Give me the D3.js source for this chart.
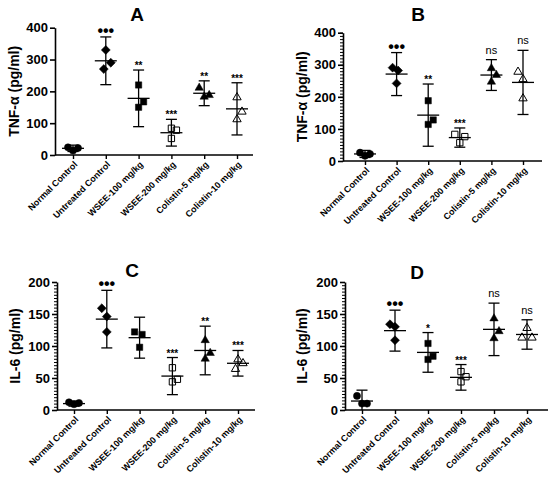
<!DOCTYPE html>
<html>
<head>
<meta charset="utf-8">
<script src="https://cdn.jsdelivr.net/npm/d3@7"></script>
<style>
body { margin: 0; background: #fff; }
svg { display: block; }
text { font-family: "Liberation Sans", Arial, sans-serif; }
</style>
</head>
<body>
<svg id="chart" width="550" height="477"></svg>
<script>
var categories = ['Normal Control', 'Untreated Control', 'WSEE-100 mg/kg',
                  'WSEE-200 mg/kg', 'Colistin-5 mg/kg', 'Colistin-10 mg/kg'];
var markers = ['circle', 'diamond', 'square', 'openSquare', 'triangle', 'openTriangle'];

// A: TNF-alpha
var tnfAMean = [21, 296, 178, 70, 194, 145];
var tnfASd = [10, 75, 89, 42, 39, 82];
var tnfAPoints = [[24, 14, 22], [330, 290, 270], [220, 167, 150],
                  [84, 78, 52], [211, 183, 188], [181, 136, 112]];
var tnfAJitter = [[-1, 0, 1], [0, 1, -0.4], [0, 1, 0], [0, 1, 0], [-1, 0, 1], [0, 1, 0]];
var tnfASig = ['', '•••', '**', '***', '**', '***'];

// B: TNF-alpha
var tnfBMean = [22, 271, 143, 73, 268, 245];
var tnfBSd = [11, 67, 97, 30, 48, 100];
var tnfBPoints = [[26, 16, 22], [291, 282, 242], [188, 128, 114],
                  [83, 76, 57], [289, 268, 247], [278, 255, 195]];
var tnfBJitter = [[-1, 0, 1], [-0.8, 0.3, 0], [0, 1, 0], [-1, 1, 0], [0, 1, 0], [-1, 0, 0]];
var tnfBSig = ['', '•••', '**', '***', 'ns', 'ns'];

// C: IL-6
var il6CMean = [10, 142, 113, 53, 93, 73];
var il6CSd = [4, 45, 32, 29, 38, 20];
var il6CPoints = [[12, 9, 11], [159, 146, 122], [122, 118, 98],
                  [66, 48, 44], [109, 89, 80], [79, 73, 64]];
var il6CJitter = [[-1, 0, 1], [-1, 0, 0], [-1, 0.5, 0], [0, 1, 0], [0, 1, 0], [0, 1, -0.5]];
var il6CSig = ['', '•••', '', '***', '**', '***'];

// D: IL-6
var il6DMean = [14, 124, 90, 51, 126, 118];
var il6DSd = [17, 32, 31, 20, 41, 23];
var il6DPoints = [[22, 10, 10], [134, 130, 109], [104, 84, 79],
                  [60, 52, 44], [143, 123, 112], [128, 113, 113]];
var il6DJitter = [[-1, 0, 1], [-1, 0, 0], [0, 1, 0], [0, 1, 0], [0, 1, 0], [0, -1, 1]];
var il6DSig = ['', '•••', '*', '***', 'ns', 'ns'];

var tnfTicks = [0, 100, 200, 300, 400];
var il6Ticks = [0, 50, 100, 150, 200];

var panels = [
    { title: 'A', yLabel: 'TNF-α (pg/ml)', mean: tnfAMean, sd: tnfASd, points: tnfAPoints,
      jitter: tnfAJitter, sig: tnfASig, ticks: tnfTicks, minor: 0,
      ax: 55, y0: 155, yTop: 27.7, x1: 73, x2: 237, xEnd: 253, titleX: 137, titleY: 21, labelX: 19 },
    { title: 'B', yLabel: 'TNF-α (pg/ml)', mean: tnfBMean, sd: tnfBSd, points: tnfBPoints,
      jitter: tnfBJitter, sig: tnfBSig, ticks: tnfTicks, minor: 10,
      ax: 343, y0: 161, yTop: 32.7, x1: 365, x2: 523, xEnd: 542, titleX: 418, titleY: 21, labelX: 307 },
    { title: 'C', yLabel: 'IL-6 (pg/ml)', mean: il6CMean, sd: il6CSd, points: il6CPoints,
      jitter: il6CJitter, sig: il6CSig, ticks: il6Ticks, minor: 5,
      ax: 57, y0: 410, yTop: 282, x1: 74, x2: 238, xEnd: 255, titleX: 132, titleY: 277, labelX: 20 },
    { title: 'D', yLabel: 'IL-6 (pg/ml)', mean: il6DMean, sd: il6DSd, points: il6DPoints,
      jitter: il6DJitter, sig: il6DSig, ticks: il6Ticks, minor: 5,
      ax: 345, y0: 410, yTop: 282, x1: 362, x2: 527, xEnd: 548, titleX: 417, titleY: 279, labelX: 307 }
];

var svg = d3.select('#chart');
var JITTER_PX = 5;

function markerPath(kind) {
    if (kind === 'circle') return d3.symbol(d3.symbolCircle, 40)();
    if (kind === 'diamond') return d3.symbol(d3.symbolSquare, 40)();
    if (kind === 'square' || kind === 'openSquare') return d3.symbol(d3.symbolSquare, 40)();
    return d3.symbol(d3.symbolTriangle, 30)();
}

function drawPanel(p) {
    var g = svg.append('g');
    var yMax = p.ticks[p.ticks.length - 1];
    var y = d3.scaleLinear().domain([0, yMax]).range([p.y0, p.yTop]);
    var x = d3.scalePoint().domain(categories).range([p.x1, p.x2]);

    // minor ticks first so major ones sit on top
    if (p.minor) {
        g.append('g').attr('transform', 'translate(' + p.ax + ',0)')
            .call(d3.axisLeft(y).tickValues(d3.range(0, yMax + 0.01, p.minor))
                               .tickSize(3).tickFormat(''))
            .call(function(a) { a.select('.domain').remove(); })
            .selectAll('line').attr('stroke-width', 1);
    }
    var yAxis = g.append('g').attr('transform', 'translate(' + p.ax + ',0)')
        .call(d3.axisLeft(y).tickValues(p.ticks).tickSize(5).tickSizeOuter(0).tickPadding(2));
    yAxis.select('.domain').attr('stroke-width', 1.6);
    yAxis.selectAll('.tick line').attr('stroke-width', 1.6);
    yAxis.selectAll('.tick text').attr('font-size', 13).attr('font-weight', 'bold')
         .attr('font-family', '"Liberation Sans", Arial, sans-serif').attr('fill', '#000');

    // x axis line with category ticks
    g.append('line').attr('x1', p.ax).attr('x2', p.xEnd).attr('y1', p.y0).attr('y2', p.y0)
        .attr('stroke', '#000').attr('stroke-width', 1.6);
    var xAxis = g.append('g').attr('transform', 'translate(0,' + p.y0 + ')')
        .call(d3.axisBottom(x).tickSize(4).tickFormat(''));
    xAxis.select('.domain').remove();
    xAxis.selectAll('.tick line').attr('stroke-width', 1.4);

    g.selectAll('text.cat').data(categories).enter().append('text')
        .attr('class', 'cat')
        .attr('transform', function(d) { return 'translate(' + (x(d) + 5) + ',' + (p.y0 + 10) + ') rotate(-45)'; })
        .attr('text-anchor', 'end')
        .attr('font-size', 9).attr('font-weight', 'bold')
        .text(function(d) { return d; });

    // y label and title
    g.append('text')
        .attr('transform', 'translate(' + p.labelX + ',' + ((p.y0 + p.yTop) / 2) + ') rotate(-90)')
        .attr('text-anchor', 'middle').attr('font-size', 14).attr('font-weight', 'bold')
        .text(p.yLabel);
    g.append('text').attr('x', p.titleX).attr('y', p.titleY)
        .attr('text-anchor', 'middle').attr('font-size', 19).attr('font-weight', 'bold')
        .text(p.title);

    categories.forEach(function(c, i) {
        var cx = x(c);
        var lo = y(Math.max(0, p.mean[i] - p.sd[i]));
        var hi = y(p.mean[i] + p.sd[i]);
        var m = y(p.mean[i]);
        var grp = g.append('g').attr('stroke', '#000').attr('stroke-width', 1.3);
        grp.append('line').attr('x1', cx).attr('x2', cx).attr('y1', lo).attr('y2', hi);
        grp.append('line').attr('x1', cx - 5.5).attr('x2', cx + 5.5).attr('y1', hi).attr('y2', hi);
        if (p.mean[i] - p.sd[i] > 0)
            grp.append('line').attr('x1', cx - 5.5).attr('x2', cx + 5.5).attr('y1', lo).attr('y2', lo);
        grp.append('line').attr('x1', cx - 11).attr('x2', cx + 11).attr('y1', m).attr('y2', m);

        var kind = markers[i];
        var open = kind.indexOf('open') === 0;
        p.points[i].forEach(function(v, k) {
            var px = cx + p.jitter[i][k] * JITTER_PX;
            var rot = kind === 'diamond' ? ' rotate(45)' : '';
            g.append('path').attr('d', markerPath(kind))
                .attr('transform', 'translate(' + px + ',' + y(v) + ')' + rot)
                .attr('fill', open ? 'none' : '#000')
                .attr('stroke', '#000').attr('stroke-width', open ? 1 : 0.5);
        });

        var s = p.sig[i];
        if (s) {
            var t = g.append('text').attr('x', cx).attr('text-anchor', 'middle').text(s);
            if (s === 'ns') t.attr('y', hi - 6).attr('font-size', 11);
            else if (s.charAt(0) === '•') t.attr('y', hi - 1).attr('font-size', 16).attr('font-weight', 'bold');
            else t.attr('y', hi - 1).attr('font-size', 10).attr('font-weight', 'bold');
        }
    });
}

panels.forEach(drawPanel);
</script>
</body>
</html>
